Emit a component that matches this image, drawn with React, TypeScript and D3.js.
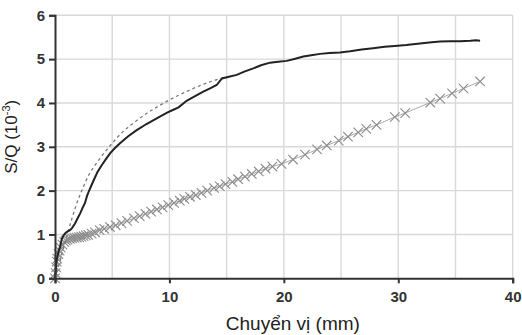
import React, { useEffect, useRef } from 'react';
import * as d3 from 'd3';

type Pt = [number, number];

// measured curve (solid black)
const measured: Pt[] = [
  [0, 0], [0.15, 0.42], [0.3, 0.6], [0.44, 0.72], [0.6, 0.9], [0.75, 0.98], [0.9, 1.03],
  [1.1, 1.07], [1.31, 1.1], [1.5, 1.15], [1.75, 1.25], [2.0, 1.38], [2.2, 1.48], [2.4, 1.6],
  [2.62, 1.72], [2.8, 1.88], [2.95, 1.98], [3.15, 2.1], [3.35, 2.22], [3.7, 2.42], [4.08, 2.58],
  [4.45, 2.72], [4.81, 2.85], [5.2, 2.96], [5.68, 3.08], [6.4, 3.24], [7.14, 3.38], [8.0, 3.52],
  [8.89, 3.65], [9.8, 3.78], [10.3, 3.84], [10.8, 3.9], [11.5, 4.05], [12.2, 4.15], [12.96, 4.26],
  [13.6, 4.34], [14.13, 4.41], [14.4, 4.5], [14.6, 4.56], [15.2, 4.6], [15.88, 4.64], [16.6, 4.72],
  [17.33, 4.79], [18.0, 4.86], [18.8, 4.92], [19.5, 4.94], [20.25, 4.96], [21.0, 5.01], [21.7, 5.06],
  [22.4, 5.09], [23.16, 5.12], [24.0, 5.14], [24.9, 5.15], [25.8, 5.18], [26.8, 5.22], [27.8, 5.25],
  [28.8, 5.28], [29.7, 5.3], [30.7, 5.32], [31.7, 5.35], [32.7, 5.38], [33.65, 5.4], [34.5, 5.41],
  [35.4, 5.41], [36.3, 5.42], [36.8, 5.43], [37.15, 5.42],
];

// predicted curve (dashed grey)
const predicted: Pt[] = [
  [0, 0], [0.25, 0.22], [0.5, 0.45], [0.75, 0.7], [1, 0.93], [1.5, 1.38], [2, 1.78], [2.5, 2.1],
  [3, 2.38], [3.5, 2.58], [4, 2.76], [5, 3.08], [6, 3.36], [7, 3.57], [8, 3.76], [9, 3.92],
  [10, 4.07], [11, 4.2], [12, 4.32], [13, 4.43], [14, 4.52], [15, 4.6],
];

// second test (grey crosses)
const crosses: Pt[] = [
  [0, 0], [0.05, 0.12], [0.1, 0.25], [0.15, 0.38], [0.2, 0.45], [0.3, 0.55], [0.4, 0.63], [0.5, 0.7],
  [0.65, 0.77], [0.8, 0.83], [0.95, 0.86], [1.1, 0.88], [1.3, 0.9], [1.5, 0.91], [1.7, 0.92],
  [1.9, 0.93], [2.1, 0.94], [2.3, 0.95], [2.5, 0.96], [2.7, 0.98], [2.9, 0.99], [3.2, 1.02],
  [3.5, 1.05], [3.9, 1.1], [4.3, 1.13], [4.8, 1.17], [5.3, 1.21], [5.8, 1.26], [6.3, 1.31],
  [6.9, 1.37], [7.4, 1.42], [7.9, 1.47], [8.4, 1.52], [8.9, 1.57], [9.4, 1.62], [9.9, 1.67],
  [10.4, 1.72], [10.9, 1.77], [11.3, 1.81], [11.8, 1.86], [12.3, 1.9], [12.8, 1.95], [13.3, 2.0],
  [13.9, 2.06], [14.4, 2.1], [14.9, 2.15], [15.5, 2.2], [16.0, 2.26], [16.6, 2.32], [17.2, 2.38],
  [17.8, 2.44], [18.4, 2.5], [19.0, 2.55], [19.8, 2.61], [20.8, 2.71], [21.85, 2.82], [22.9, 2.94],
  [23.75, 3.03], [24.8, 3.14], [25.6, 3.23], [26.5, 3.33], [27.2, 3.41], [28.1, 3.5], [29.7, 3.68],
  [30.6, 3.77], [32.8, 4.01], [33.65, 4.1], [34.7, 4.22], [35.7, 4.33], [37.15, 4.49],
];

const xTicks = [0, 10, 20, 30, 40];
const xGrid = [5, 10, 15, 20, 25, 30, 35, 40];
const yTicks = [0, 1, 2, 3, 4, 5, 6];

const FONT = '"Liberation Sans", Arial, sans-serif';

export default function App() {
  const svgRef = useRef<SVGSVGElement>(null);

  useEffect(() => {
    if (!svgRef.current) return;
    const root = d3.select(svgRef.current);
    root.selectAll('*').remove();

    const width = 522;
    const height = 335;
    const margin = { top: 15.3, right: 9.3, bottom: 56.7, left: 55 };
    const w = width - margin.left - margin.right;
    const h = height - margin.top - margin.bottom;

    const svg = root.append('g').attr('transform', `translate(${margin.left},${margin.top})`);

    const x = d3.scaleLinear().domain([0, 40]).range([0, w]);
    const y = d3.scaleLinear().domain([0, 6]).range([h, 0]);

    // grid
    svg
      .selectAll('.vgrid')
      .data(xGrid)
      .enter()
      .append('line')
      .attr('x1', d => x(d))
      .attr('x2', d => x(d))
      .attr('y1', 0)
      .attr('y2', h)
      .attr('stroke', '#d9d9d9')
      .attr('stroke-width', 1.4);

    svg
      .selectAll('.hgrid')
      .data(yTicks.filter(d => d > 0))
      .enter()
      .append('line')
      .attr('x1', 0)
      .attr('x2', w)
      .attr('y1', d => y(d))
      .attr('y2', d => y(d))
      .attr('stroke', '#d9d9d9')
      .attr('stroke-width', 1.4);

    const line = d3
      .line<Pt>()
      .x(d => x(d[0]))
      .y(d => y(d[1]));

    // crosses series
    svg
      .append('path')
      .datum(crosses)
      .attr('d', line)
      .attr('fill', 'none')
      .attr('stroke', '#a0a0a0')
      .attr('stroke-width', 0.9);

    const cross = d3.symbol().type(d3.symbolX).size(60);
    svg
      .selectAll('.cross')
      .data(crosses)
      .enter()
      .append('path')
      .attr('d', cross)
      .attr('transform', d => `translate(${x(d[0])},${y(d[1])})`)
      .attr('fill', 'none')
      .attr('stroke', '#8c8c8c')
      .attr('stroke-width', 1.1);

    // predicted (dashed)
    svg
      .append('path')
      .datum(predicted)
      .attr('d', line.curve(d3.curveMonotoneX))
      .attr('fill', 'none')
      .attr('stroke', '#7a7a7a')
      .attr('stroke-width', 1.3)
      .attr('stroke-dasharray', '3,3');

    // measured (solid)
    svg
      .append('path')
      .datum(measured)
      .attr('d', line.curve(d3.curveLinear))
      .attr('fill', 'none')
      .attr('stroke', '#222')
      .attr('stroke-width', 2);

    // x axis
    const xAxis = svg
      .append('g')
      .attr('transform', `translate(0,${h})`)
      .call(d3.axisBottom(x).tickValues(xTicks).tickFormat(d3.format('d')).tickSize(5).tickPadding(8));
    xAxis.select('.domain').attr('stroke', '#333').attr('stroke-width', 2);
    xAxis.selectAll('.tick line').attr('stroke', '#333').attr('stroke-width', 2);
    xAxis
      .selectAll('text')
      .attr('fill', '#333')
      .attr('font-size', '15px')
      .attr('font-weight', 'bold')
      .attr('font-family', FONT);

    // y axis
    const yAxis = svg
      .append('g')
      .call(d3.axisLeft(y).tickValues(yTicks).tickFormat(d3.format('d')).tickSize(6).tickPadding(4));
    yAxis.select('.domain').attr('stroke', '#333').attr('stroke-width', 2);
    yAxis.selectAll('.tick line').attr('stroke', '#333').attr('stroke-width', 2);
    yAxis
      .selectAll('text')
      .attr('fill', '#333')
      .attr('font-size', '15px')
      .attr('font-weight', 'bold')
      .attr('font-family', FONT);

    // x title
    svg
      .append('text')
      .attr('x', w / 2 + 9)
      .attr('y', h + 52)
      .attr('text-anchor', 'middle')
      .attr('fill', '#222')
      .attr('font-size', '19px')
      .attr('font-family', FONT)
      .text('Chuyển vị (mm)');

    // y title
    const yt = svg
      .append('text')
      .attr('transform', `translate(${-38},${h / 2 - 10}) rotate(-90)`)
      .attr('text-anchor', 'middle')
      .attr('fill', '#222')
      .attr('font-size', '17px')
      .attr('font-family', FONT);
    yt.append('tspan').text('S/Q (10');
    yt.append('tspan').attr('font-size', '11px').attr('dy', -7).text('-3');
    yt.append('tspan').attr('dy', 7).text(')');
  }, []);

  return (
    <svg
      ref={svgRef}
      width={522}
      height={335}
      style={{ position: 'absolute', left: 0, top: 0, background: '#fff' }}
    />
  );
}
